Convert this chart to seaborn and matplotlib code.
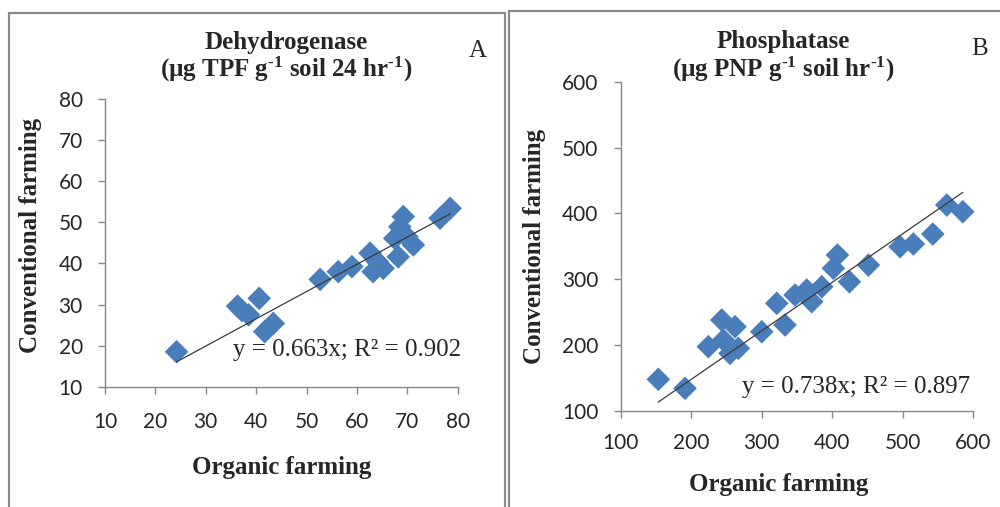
import matplotlib
matplotlib.use('Agg')
import matplotlib.pyplot as plt
import seaborn as sns
import pandas as pd
import numpy as np
from matplotlib.patches import Rectangle

# ---------------- data ----------------
dh_organic = [24.2, 36.3, 37.2, 38.5, 40.6, 41.7, 43.4, 52.7, 56.3, 59.0, 62.6,
              63.2, 64.0, 65.2, 67.5, 68.2, 68.5, 69.2, 69.9, 71.2, 76.5, 78.5]
dh_conventional = [18.5, 29.6, 28.5, 27.5, 31.5, 23.4, 25.4, 36.1, 38.0, 39.2, 42.5,
                   38.0, 40.5, 38.8, 46.1, 41.6, 48.9, 51.4, 46.5, 44.5, 51.0, 53.4]
dh_slope = 0.663
dh_r2 = 0.902

ph_organic = [153.3, 191.2, 224.3, 243.3, 245.6, 255.0, 262.1, 266.8, 300.0, 321.3,
              333.0, 347.2, 363.8, 370.9, 385.1, 401.6, 407.3, 424.3, 451.3, 496.2,
              515.0, 542.6, 562.4, 585.1]
ph_conventional = [147.7, 134.0, 197.3, 237.8, 207.4, 187.2, 227.7, 194.8, 220.0, 263.2,
                   230.3, 275.8, 283.4, 265.7, 288.4, 316.4, 336.6, 296.0, 321.4, 349.2,
                   353.4, 368.5, 412.6, 402.4]
ph_slope = 0.738
ph_r2 = 0.897

dh_ticks = [10, 20, 30, 40, 50, 60, 70, 80]
ph_ticks = [100, 200, 300, 400, 500, 600]

# ---------------- style ----------------
sns.set_theme(style='white')
plt.rcParams['font.family'] = ['Liberation Serif', 'DejaVu Serif']
plt.rcParams['mathtext.fontset'] = 'custom'
plt.rcParams['mathtext.rm'] = 'Liberation Serif'
plt.rcParams['mathtext.bf'] = 'Liberation Serif:bold'
plt.rcParams['mathtext.default'] = 'regular'

W, H = 1000, 507
fig = plt.figure(figsize=(W / 100, H / 100), dpi=100)

def fx(px):
    return px / W

def fy(py):
    return 1 - py / H

BLUE = '#4A7EBB'
GRAY = '#868686'

# panel borders
fig.patches.append(Rectangle((fx(9), fy(520)), fx(505 - 9), (520 - 13) / H,
                             transform=fig.transFigure, fill=False,
                             edgecolor='#8a8a8a', linewidth=1.6))
fig.patches.append(Rectangle((fx(509), fy(520)), fx(1020 - 509), (520 - 11) / H,
                             transform=fig.transFigure, fill=False,
                             edgecolor='#8a8a8a', linewidth=1.6))

def make_panel(rect, xs, ys, slope, ticks, xpad, ypad):
    ax = fig.add_axes(rect)
    df = pd.DataFrame({'organic': xs, 'conventional': ys})
    sns.scatterplot(data=df, x='organic', y='conventional', marker='D', s=145,
                    color=BLUE, edgecolor='none', ax=ax, legend=False, zorder=3,
                    clip_on=False)
    xl = np.array([min(xs), max(xs)])
    ax.plot(xl, slope * xl, color='#3a3a3a', lw=0.9, zorder=4)
    ax.set_xlim(ticks[0], ticks[-1])
    ax.set_ylim(ticks[0], ticks[-1])
    ax.set_xticks(ticks)
    ax.set_yticks(ticks)
    ax.set_xlabel('')
    ax.set_ylabel('')
    for s in ['top', 'right']:
        ax.spines[s].set_visible(False)
    for s in ['left', 'bottom']:
        ax.spines[s].set_color(GRAY)
        ax.spines[s].set_linewidth(1.0)
    ax.tick_params(bottom=True, left=True, direction='out', length=5, width=1,
                   color=GRAY, labelsize=15, labelcolor='#262626')
    ax.tick_params(axis='x', pad=xpad)
    ax.tick_params(axis='y', pad=ypad)
    for lbl in ax.get_xticklabels() + ax.get_yticklabels():
        lbl.set_fontfamily(['Lato', 'DejaVu Sans'])
    ax.patch.set_alpha(0)
    return ax

axA = make_panel([fx(105), fy(386.7), fx(457.7 - 105), (386.7 - 99) / H],
                 dh_organic, dh_conventional, dh_slope, dh_ticks, 13, 11)
axB = make_panel([fx(620.7), fy(410.7), fx(973.3 - 620.7), (410.7 - 81.7) / H],
                 ph_organic, ph_conventional, ph_slope, ph_ticks, 11, 11)

# titles
HY = '\u2010'
fig.text(fx(286), fy(49), 'Dehydrogenase', ha='center', va='baseline',
         fontsize=18, fontweight='bold')
fig.text(fx(286), fy(77), '(µg TPF g$^{' + HY + '1}$ soil 24 hr$^{' + HY + '1}$)',
         ha='center', va='baseline', fontsize=18, fontweight='bold')
fig.text(fx(478), fy(57), 'A', ha='center', va='baseline', fontsize=18)

fig.text(fx(783), fy(48), 'Phosphatase', ha='center', va='baseline',
         fontsize=18, fontweight='bold')
fig.text(fx(783), fy(77), '(µg PNP g$^{' + HY + '1}$ soil hr$^{' + HY + '1}$)',
         ha='center', va='baseline', fontsize=18, fontweight='bold')
fig.text(fx(980), fy(55), 'B', ha='center', va='baseline', fontsize=18)

# axis labels
fig.text(fx(282), fy(474), 'Organic farming', ha='center', va='baseline',
         fontsize=18, fontweight='bold')
fig.text(fx(779), fy(491), 'Organic farming', ha='center', va='baseline',
         fontsize=18, fontweight='bold')
fig.text(fx(31), fy(235), 'Conventional farming', ha='center', va='center',
         rotation=90, fontsize=18, fontweight='bold')
fig.text(fx(534), fy(246), 'Conventional farming', ha='center', va='center',
         rotation=90, fontsize=18, fontweight='bold')

# equations
fig.text(fx(461), fy(356), f'y = {dh_slope:.3f}x; R² = {dh_r2:.3f}', ha='right',
         va='baseline', fontsize=18)
fig.text(fx(970), fy(393), f'y = {ph_slope:.3f}x; R² = {ph_r2:.3f}', ha='right',
         va='baseline', fontsize=18)

fig.savefig('out.png', dpi=100)
